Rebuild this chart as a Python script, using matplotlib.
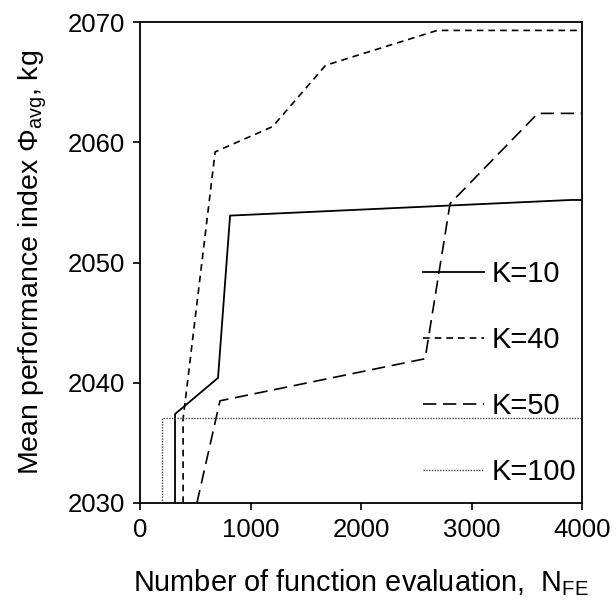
import matplotlib
matplotlib.use("Agg")
import matplotlib.pyplot as plt

plt.rcParams['font.family'] = ['Liberation Sans', 'DejaVu Sans']
plt.rcParams['mathtext.fontset'] = 'custom'
plt.rcParams['mathtext.rm'] = 'Liberation Sans'
plt.rcParams['mathtext.it'] = 'Liberation Sans'

# convergence curves
k10_x = [317, 317, 706, 815, 3900, 4000]
k10_y = [2030, 2037.4, 2040.4, 2053.9, 2055.2, 2055.2]

k40_x = [390, 390, 680, 1200, 1680, 2690, 4000]
k40_y = [2030, 2037.0, 2059.2, 2061.3, 2066.4, 2069.3, 2069.3]

k50_x = [515, 724, 2580, 2806, 3600, 4000]
k50_y = [2030, 2038.5, 2042.0, 2054.9, 2062.4, 2062.4]

k100_x = [199, 199, 4000]
k100_y = [2030, 2037.1, 2037.1]

labels = ['K=10', 'K=40', 'K=50', 'K=100']

fig = plt.figure(figsize=(6.16, 6.08), dpi=100)
ax = fig.add_axes([140 / 616, 1 - 503 / 608, 442 / 616, 481 / 608])

ax.plot(k10_x, k10_y, color='black', lw=1.3, ls='-', label=labels[0])
ax.plot(k40_x, k40_y, color='black', lw=1.2, ls=(0, (4, 3)), label=labels[1])
ax.plot(k50_x, k50_y, color='black', lw=1.2, ls=(0, (8, 4)), label=labels[2])
ax.plot(k100_x, k100_y, color='#444444', lw=1.0, ls=(0, (1, 1)), label=labels[3])

ax.set_xlim(0, 4000)
ax.set_ylim(2030, 2070)
ax.set_xticks([0, 1000, 2000, 3000, 4000])
ax.set_yticks([2030, 2040, 2050, 2060, 2070])
ax.tick_params(labelsize=18.5, direction='out', length=5, width=1.2, pad=6)
for s in ax.spines.values():
    s.set_linewidth(1.3)

ax.set_xlabel(r'Number of function evaluation,  N$_{\mathregular{FE}}$', fontsize=20.8, labelpad=18)
ax.set_ylabel(r'Mean performance index $\mathregular{\Phi_{avg}}$, kg', fontsize=20.5, labelpad=13)

ax.legend(loc='center left', bbox_to_anchor=(0.64, 0.27), frameon=False,
          fontsize=21, handlelength=2.1, handletextpad=0.27, labelspacing=1.3,
          borderpad=0, borderaxespad=0)

fig.savefig('out.png', dpi=100)
